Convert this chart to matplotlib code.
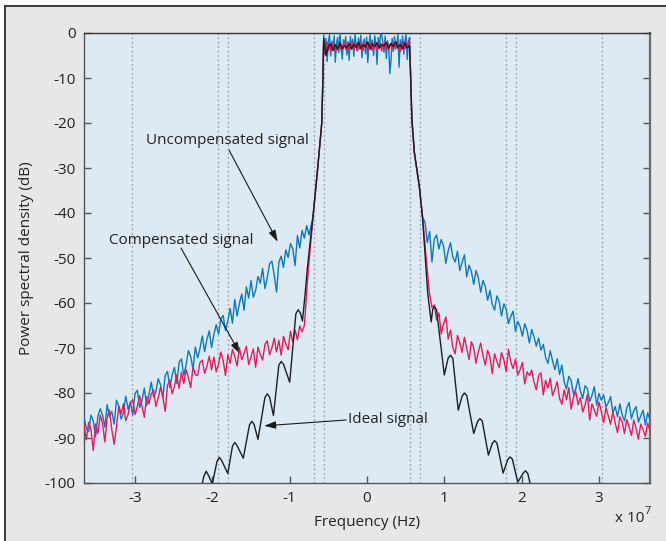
import numpy as np
import matplotlib
matplotlib.use("Agg")
import matplotlib.pyplot as plt
from matplotlib.patches import Rectangle

plt.rcParams['font.family'] = ['Open Sans', 'DejaVu Sans']

# ---------------- data (frequency in units of 1e7 Hz, PSD in dB) ----------------
# uncompensated signal, lower stop band (uniform bins)
blue_left = [
    -85.3, -87.9, -88.6, -84.9, -86.2, -89.7, -85.1,
    -83.5, -84.9, -87.6, -82.6, -85.3, -84.1, -86.9,
    -81.6, -82.9, -85.8, -84.4, -80.7, -83.6, -82.0, -84.9,
    -80.1, -79.4, -83.2, -81.7, -78.9, -82.8, -80.3,
    -77.6, -80.9, -79.7, -76.8, -78.2, -81.1, -76.1,
    -75.2, -78.8, -76.0, -74.3, -77.9, -73.2, -72.4, -76.1,
    -73.8, -70.6, -71.9, -74.7, -69.8, -72.2, -70.1,
    -67.3, -70.8, -68.1, -66.2, -69.9, -67.0, -64.8,
    -66.9, -63.5, -62.8, -66.1, -64.0, -61.2, -64.5,
    -59.2, -62.9, -60.1, -58.0, -61.6, -56.4, -58.9,
    -55.0, -58.7, -57.2, -54.1, -55.6, -52.3, -56.8,
    -54.4, -51.3, -50.7, -53.8, -57.6, -50.9, -49.6,
    -52.1, -48.2, -49.9, -46.8, -47.9, -51.7,
    -45.0, -47.8, -43.9, -45.6, -42.8, -44.9,
]
blue_left_range = (-3.66, -0.75)

# uncompensated signal, upper stop band
blue_right = [
    -42.0, -46.6, -44.1, -50.9, -45.8, -44.9, -48.0,
    -45.9, -47.3, -51.2, -48.4, -46.6, -49.8, -50.9,
    -48.5, -52.8, -51.0, -49.3, -54.2, -51.6, -53.0,
    -55.9, -52.8, -54.4, -57.6, -55.0, -56.3, -59.4,
    -57.2, -60.3, -61.6, -58.4, -59.7, -62.9, -60.2,
    -61.4, -64.6, -63.0, -61.8, -66.3, -64.1, -65.2,
    -67.4, -64.6, -66.1, -68.9, -65.9, -67.5, -69.6,
    -67.8, -70.5, -69.2, -72.1, -73.4, -70.6, -72.9,
    -74.8, -72.4, -75.9, -73.8, -77.5, -79.1, -76.3,
    -77.2, -80.3, -79.1, -76.8, -79.6, -81.2, -78.4,
    -79.0, -81.9, -80.5, -78.6, -82.7, -80.1, -81.6,
    -80.4, -83.1, -82.2, -80.8, -84.4, -83.0, -85.3,
    -82.4, -84.8, -86.2, -83.3, -82.1, -85.7, -84.0,
    -83.0, -86.5, -85.1, -83.8, -87.1, -84.4, -86.0,
]
blue_right_range = (0.75, 3.66)

# uncompensated signal, pass band
blue_pass = [
    -0.5, -4.8, -1.2, -6.3, -2.0, -0.4, -5.1, -1.8, -3.9, -0.6,
    -6.5, -2.3, -1.0, -4.4, -0.2, -3.1, -5.8, -1.5, -2.7, -0.8,
    -4.9, -1.9, -6.1, -0.7, -3.3, -1.4, -5.2, -0.3, -2.6, -4.0,
    -1.1, -3.6, -0.5, -5.5, -2.2, -1.3, -4.6, -0.9, -6.6, -2.8,
    -0.4, -3.8, -1.6, -5.0, -0.6, -2.4, -7.0, -1.0, -3.4, -0.2,
    -0.5, -2.1, -4.3, -0.7, -5.7, -1.7, -3.0, -9.0, -6.2, -1.2,
    -4.1, -0.8, -3.6, -2.5, -0.4, -7.6, -1.5, -3.7, -0.6, -4.7,
    -1.9, -0.3, -5.9, -2.2, -1.0,
]
# compensated signal, pass band
red_pass = [
    -1.5, -4.6, -3.0, -2.0, -3.8, -2.4, -4.2, -3.1, -2.2, -3.6,
    -2.8, -4.0, -2.5, -3.3, -2.1, -3.9, -2.7, -3.4, -1.9, -3.7,
    -2.6, -4.1, -3.0, -2.3, -3.5, -2.0, -3.8, -2.9, -2.4, -4.0,
    -3.2, -2.1, -3.6, -2.5, -3.9, -2.2, -3.3, -2.7, -4.2, -2.4,
    -3.1, -1.9, -3.7, -2.6, -3.4, -2.0, -3.9, -2.8, -3.5, -2.2,
    -4.0, -2.5, -3.2, -1.8, -3.6, -2.3, -3.8, -2.6, -3.0, -2.1,
    -3.7, -2.4, -3.3, -1.9, -3.5, -2.6, -4.1, -2.2, -3.4, -1.8,
    -3.6, -2.5, -3.2, -1.7, -2.9,
]
# ideal signal, pass band
black_pass = [
    -1.2, -5.0, -3.0, -2.4, -3.9, -2.6, -3.6, -2.2, -3.5, -2.8,
    -3.3, -2.3, -3.6, -2.5, -3.2, -2.1, -3.4, -2.6, -3.1, -2.0,
    -3.5, -2.4, -3.0, -2.2, -3.3, -2.5, -2.9, -2.1, -3.4, -2.3,
    -3.0, -2.0, -3.2, -2.6, -3.5, -2.2, -3.3, -2.8,
]
pass_range = (-0.56, 0.55)

# compensated signal, lower stop band
red_left = [
    -87.0, -90.4, -86.5, -88.1, -92.8, -86.9, -89.0,
    -84.9, -86.8, -90.9, -85.3, -83.8, -88.2, -91.4,
    -87.5, -83.0, -84.6, -82.4, -86.1, -84.8, -82.1,
    -81.5, -84.8, -83.0, -80.6, -82.9, -85.4, -80.8,
    -82.4, -80.2, -79.3, -83.0, -81.1, -78.7, -80.9,
    -84.1, -78.3, -77.1, -80.2, -78.5, -75.9, -79.0,
    -75.4, -77.9, -74.8, -76.6, -78.8, -74.3, -75.9,
    -76.1, -73.2, -72.7, -75.6, -74.0, -71.8, -74.9,
    -72.0, -75.3, -73.6, -70.9, -72.8, -76.1, -71.5,
    -73.4, -70.3, -71.9, -74.0, -69.9, -72.6, -71.2,
    -69.6, -73.7, -72.0, -70.2, -74.3, -69.8, -71.4,
    -72.7, -69.2, -68.4, -71.5, -70.0, -67.8, -70.9,
    -68.3, -71.6, -67.4, -69.1, -70.4, -66.3, -68.7,
    -66.0, -68.2, -65.1, -66.4,
]
red_left_range = (-3.66, -0.84)

# compensated signal, upper stop band
red_right = [
    -60.4, -63.8, -62.2, -66.9, -64.7, -63.1, -68.0,
    -66.0, -69.9, -71.3, -67.2, -68.8, -71.0, -67.6,
    -70.1, -72.6, -68.6, -69.9, -73.4, -70.8, -68.9,
    -71.7, -73.8, -70.5, -72.0, -75.7, -71.3, -73.0,
    -74.4, -71.0, -72.6, -75.2, -70.3, -73.1, -74.6,
    -72.5, -76.0, -74.8, -73.2, -78.0, -75.3, -76.1,
    -74.9, -77.6, -79.3, -76.1, -75.5, -80.4, -77.2,
    -78.9, -76.7, -80.6, -79.1, -77.5, -81.2, -82.5,
    -79.3, -81.5, -78.8, -83.6, -80.9, -79.7, -82.6,
    -81.0, -84.2, -82.7, -80.4, -86.0, -82.4, -83.8,
    -85.2, -82.0, -84.1, -86.6, -83.3, -85.0, -87.0,
    -84.2, -86.7, -88.8, -85.3, -86.4, -89.0, -85.9,
    -87.6, -89.4, -86.0, -87.9, -90.3, -86.9, -88.2,
    -89.6, -86.7, -88.4,
]
red_right_range = (0.87, 3.66)

# filter skirts
blue_skirt_left_f = [-0.70, -0.64, -0.585, -0.57]
blue_skirt_left_db = [-41.0, -30.5, -20.0, -10.0]
blue_skirt_right_f = [0.562, 0.58, 0.612, 0.676, 0.72]
blue_skirt_right_db = [-8.0, -19.0, -26.5, -34.0, -41.0]

red_skirt_left_f = [-0.81, -0.77, -0.735, -0.70, -0.64, -0.585, -0.57]
red_skirt_left_db = [-65.0, -55.0, -48.0, -41.5, -30.5, -20.0, -10.0]
red_skirt_right_f = [0.562, 0.58, 0.612, 0.676, 0.72, 0.76, 0.806, 0.84]
red_skirt_right_db = [-8.0, -19.0, -26.5, -34.0, -41.0, -49.0, -57.5, -61.0]

# ideal signal side lobes
black_left_f = [-2.18, -2.11, -2.08, -2.05, -2.00, -1.94, -1.91, -1.88, -1.80,
                -1.74, -1.71, -1.68, -1.60, -1.52, -1.49, -1.46, -1.41,
                -1.32, -1.29, -1.26, -1.21, -1.14, -1.11, -1.08, -1.00,
                -0.92, -0.89, -0.86, -0.835, -0.80, -0.77, -0.735, -0.70,
                -0.64, -0.585, -0.57]
black_left_db = [-104.0, -98.5, -97.4, -98.3, -100.2, -95.2, -94.3, -95.0, -97.9,
                 -91.8, -91.0, -91.7, -94.5, -87.1, -86.3, -87.0, -90.3,
                 -81.0, -80.2, -80.9, -85.0, -73.8, -73.0, -73.6, -77.6,
                 -62.4, -61.5, -62.3, -64.0, -58.0, -52.0, -46.5, -41.0,
                 -30.5, -20.0, -10.0]
black_right_f = [0.565, 0.58, 0.612, 0.676, 0.72, 0.785, 0.83,
                 0.85, 0.875, 0.90, 1.00, 1.05, 1.08, 1.11, 1.18,
                 1.23, 1.26, 1.29, 1.38, 1.43, 1.46, 1.49, 1.57,
                 1.62, 1.65, 1.68, 1.76, 1.82, 1.85, 1.88, 1.95,
                 2.02, 2.05, 2.08, 2.16]
black_right_db = [-10.0, -19.0, -26.5, -34.0, -41.5, -57.8, -64.2,
                  -61.4, -60.8, -61.6, -76.0, -72.2, -71.6, -72.3, -83.8,
                  -80.7, -80.0, -80.6, -89.0, -86.3, -85.7, -86.2, -93.8,
                  -91.2, -90.6, -91.1, -97.8, -94.8, -94.2, -94.7, -99.8,
                  -97.8, -97.3, -97.9, -104.0]

# reference frequencies (dotted markers)
marker_freqs = [-3.04, -1.93, -1.80, -0.69, -0.552, 0.552, 0.69, 1.80, 1.93, 3.04]

x_ticks = [-3, -2, -1, 0, 1, 2, 3]
y_ticks = [0, -10, -20, -30, -40, -50, -60, -70, -80, -90, -100]


def bins(values, span):
    return np.linspace(span[0], span[1], len(values))


blue_f = np.concatenate([bins(blue_left, blue_left_range), blue_skirt_left_f,
                         bins(blue_pass, pass_range), blue_skirt_right_f,
                         bins(blue_right, blue_right_range)])
blue_db = np.concatenate([blue_left, blue_skirt_left_db, blue_pass,
                          blue_skirt_right_db, blue_right])

red_f = np.concatenate([bins(red_left, red_left_range), red_skirt_left_f,
                        bins(red_pass, pass_range), red_skirt_right_f,
                        bins(red_right, red_right_range)])
red_db = np.concatenate([red_left, red_skirt_left_db, red_pass,
                         red_skirt_right_db, red_right])

black_f = np.concatenate([black_left_f, bins(black_pass, pass_range), black_right_f])
black_db = np.concatenate([black_left_db, black_pass, black_right_db])

# ---------------- figure ----------------
W, H = 666, 541
fig = plt.figure(figsize=(W / 100, H / 100), dpi=100, facecolor='white')
# grey panel with a dark frame on its top and left edges
fig.patches.append(Rectangle((5 / W, -0.2), 1.3, 1.2 - 6 / H,
                             transform=fig.transFigure, facecolor='#e6e7e8',
                             edgecolor='#3a3a3a', linewidth=1.4, zorder=-5))

ax = fig.add_axes([84 / W, 1 - 483 / H, (650 - 84) / W, (483 - 33) / H])
ax.set_zorder(2)
ax.set_facecolor('#ddeaf4')

for fm in marker_freqs:
    ax.axvline(fm, color='#9a9ea3', linestyle=(0, (1.2, 2.0)), linewidth=1.0, zorder=1)

lw = 1.0
ax.plot(blue_f, blue_db, color='#0a78c2', linewidth=lw, zorder=3)
ax.plot(red_f, red_db, color='#ea1a5a', linewidth=lw, zorder=4)
ax.plot(black_f, black_db, color='#1e1e1e', linewidth=lw, zorder=5)

ax.set_xlim(-3.66, 3.66)
ax.set_ylim(-100, 0)
ax.set_xticks(x_ticks)
ax.set_xticklabels([str(t) for t in x_ticks])
ax.set_yticks(y_ticks)
ax.set_yticklabels([str(t) for t in y_ticks])
ax.tick_params(axis='both', direction='in', length=5, width=1.0, color='#555555',
               labelsize=11, labelcolor='#222222', pad=6)
ax.tick_params(axis='y', right=True, left=True)
ax.tick_params(axis='x', top=False, bottom=True)
for side in ['left', 'bottom', 'right', 'top']:
    ax.spines[side].set_linewidth(1.0)
ax.spines['left'].set_color('#555555')
ax.spines['bottom'].set_color('#555555')
ax.spines['right'].set_color('#6a6a6a')
ax.spines['right'].set_linewidth(1.6)
ax.spines['top'].set_color('#333333')

ax.set_xlabel('Frequency (Hz)', fontsize=11, color='#222222', labelpad=6)
ax.set_ylabel('Power spectral density (dB)', fontsize=11, color='#222222', labelpad=8)

fig.text(615 / W, 1 - 518 / H, 'x 10', fontsize=11, color='#222222',
         ha='left', va='center')
fig.text(645 / W, 1 - 511 / H, '7', fontsize=8, color='#222222',
         ha='left', va='center')

arrow = dict(arrowstyle='-|>,head_length=0.7,head_width=0.22', color='#1a1a1a',
             linewidth=0.8, shrinkA=0, shrinkB=0)
ax.annotate('', xy=(-1.155, -46.4), xytext=(-1.785, -26.0), arrowprops=arrow)
ax.text(-2.86, -24.0, 'Uncompensated signal', fontsize=11, color='#222222',
        ha='left', va='center')
ax.annotate('', xy=(-1.642, -71.3), xytext=(-2.405, -47.8), arrowprops=arrow)
ax.text(-3.34, -46.0, 'Compensated signal', fontsize=11, color='#222222',
        ha='left', va='center')
ax.annotate('', xy=(-1.332, -87.3), xytext=(-0.27, -86.0), arrowprops=arrow)
ax.text(-0.25, -85.8, 'Ideal signal', fontsize=11, color='#222222',
        ha='left', va='center')

fig.savefig('out.png', dpi=100, facecolor=fig.get_facecolor())
